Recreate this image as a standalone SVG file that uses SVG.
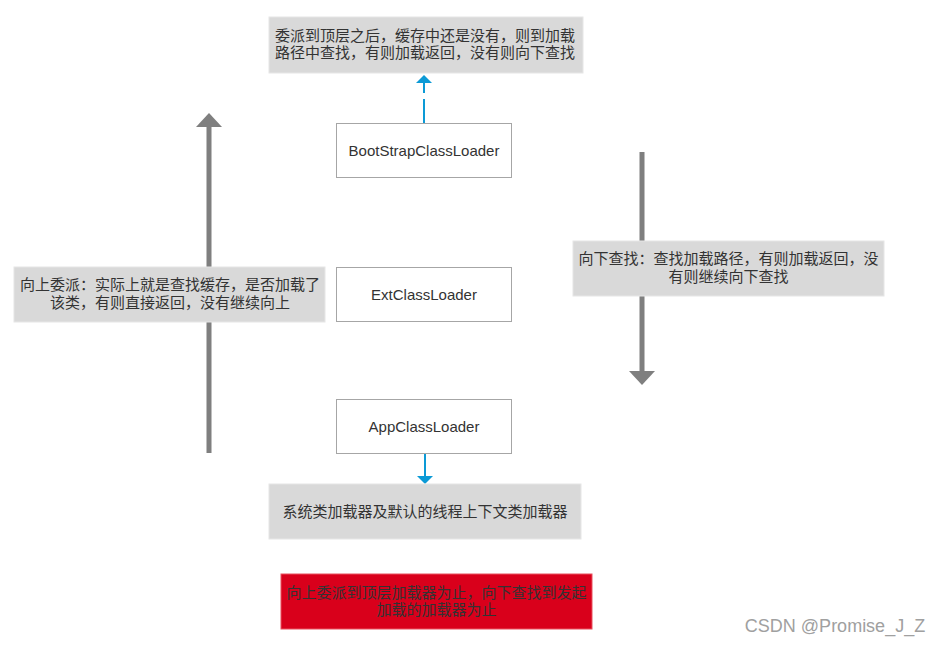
<svg xmlns="http://www.w3.org/2000/svg" width="941" height="645" viewBox="0 0 941 645">
<style>
text{font-family:"Liberation Sans","Noto Sans CJK SC",sans-serif;font-size:15px;fill:#333;text-anchor:middle}
.node{fill:#fff;stroke:#a6a6a6;stroke-width:1}
.note{fill:#d9d9d9;stroke:#e6e6e6;stroke-width:1}
.big{stroke:#7f7f7f;stroke-width:5;fill:none}
.blue{stroke:#0c9ad6;stroke-width:2;fill:none}
</style>
<defs>
<marker id="gh" markerUnits="userSpaceOnUse" viewBox="0 0 14 26" markerWidth="14" markerHeight="26" refX="0" refY="13" orient="auto"><path d="M0,0 L14,13 L0,26 z" fill="#7f7f7f"/></marker>
<marker id="bh" markerUnits="userSpaceOnUse" viewBox="0 0 8 16" markerWidth="8" markerHeight="16" refX="0" refY="8" orient="auto"><path d="M0,0 L8,8 L0,16 z" fill="#0c9ad6"/></marker>
</defs>
<rect width="941" height="645" fill="#fff"/>
<g id="connectors">
<line class="big" x1="209" y1="453" x2="209" y2="127" marker-end="url(#gh)"/>
<line class="big" x1="642" y1="152" x2="642" y2="371" marker-end="url(#gh)"/>
<line class="blue" x1="424" y1="123" x2="424" y2="83" stroke-dasharray="24 6" marker-end="url(#bh)"/>
<line class="blue" x1="425" y1="453" x2="425" y2="476" marker-end="url(#bh)"/>
</g>
<g id="note-top">
<rect class="note" x="269" y="17" width="314" height="56"/>
<text x="425" y="41">委派到顶层之后，缓存中还是没有，则到加载</text>
<text x="425" y="58">路径中查找，有则加载返回，没有则向下查找</text>
</g>
<g id="bootstrap">
<rect class="node" x="336.5" y="123.5" width="175" height="54"/>
<text x="424" y="156">BootStrapClassLoader</text>
</g>
<g id="ext">
<rect class="node" x="336.5" y="267.5" width="175" height="54"/>
<text x="424" y="300">ExtClassLoader</text>
</g>
<g id="app">
<rect class="node" x="336.5" y="399.5" width="175" height="54"/>
<text x="424" y="432">AppClassLoader</text>
</g>
<g id="note-up">
<rect class="note" x="14" y="267" width="311" height="55"/>
<text x="170" y="290">向上委派：实际上就是查找缓存，是否加载了</text>
<text x="170" y="308">该类，有则直接返回，没有继续向上</text>
</g>
<g id="note-down">
<rect class="note" x="573" y="241" width="311" height="55"/>
<text x="728.5" y="264">向下查找：查找加载路径，有则加载返回，没</text>
<text x="728.5" y="282">有则继续向下查找</text>
</g>
<g id="note-app">
<rect class="note" x="269" y="484" width="312" height="55"/>
<text x="425" y="517">系统类加载器及默认的线程上下文类加载器</text>
</g>
<g id="note-red">
<rect x="281" y="574" width="311" height="55" fill="#d9001b" stroke="#e8505f" stroke-width="1"/>
<text x="436.5" y="598">向上委派到顶层加载器为止，向下查找到发起</text>
<text x="436.5" y="615">加载的加载器为止</text>
</g>
<text x="835" y="632" style="font-size:18px;fill:#a0a0a0">CSDN @Promise_J_Z</text>
</svg>
